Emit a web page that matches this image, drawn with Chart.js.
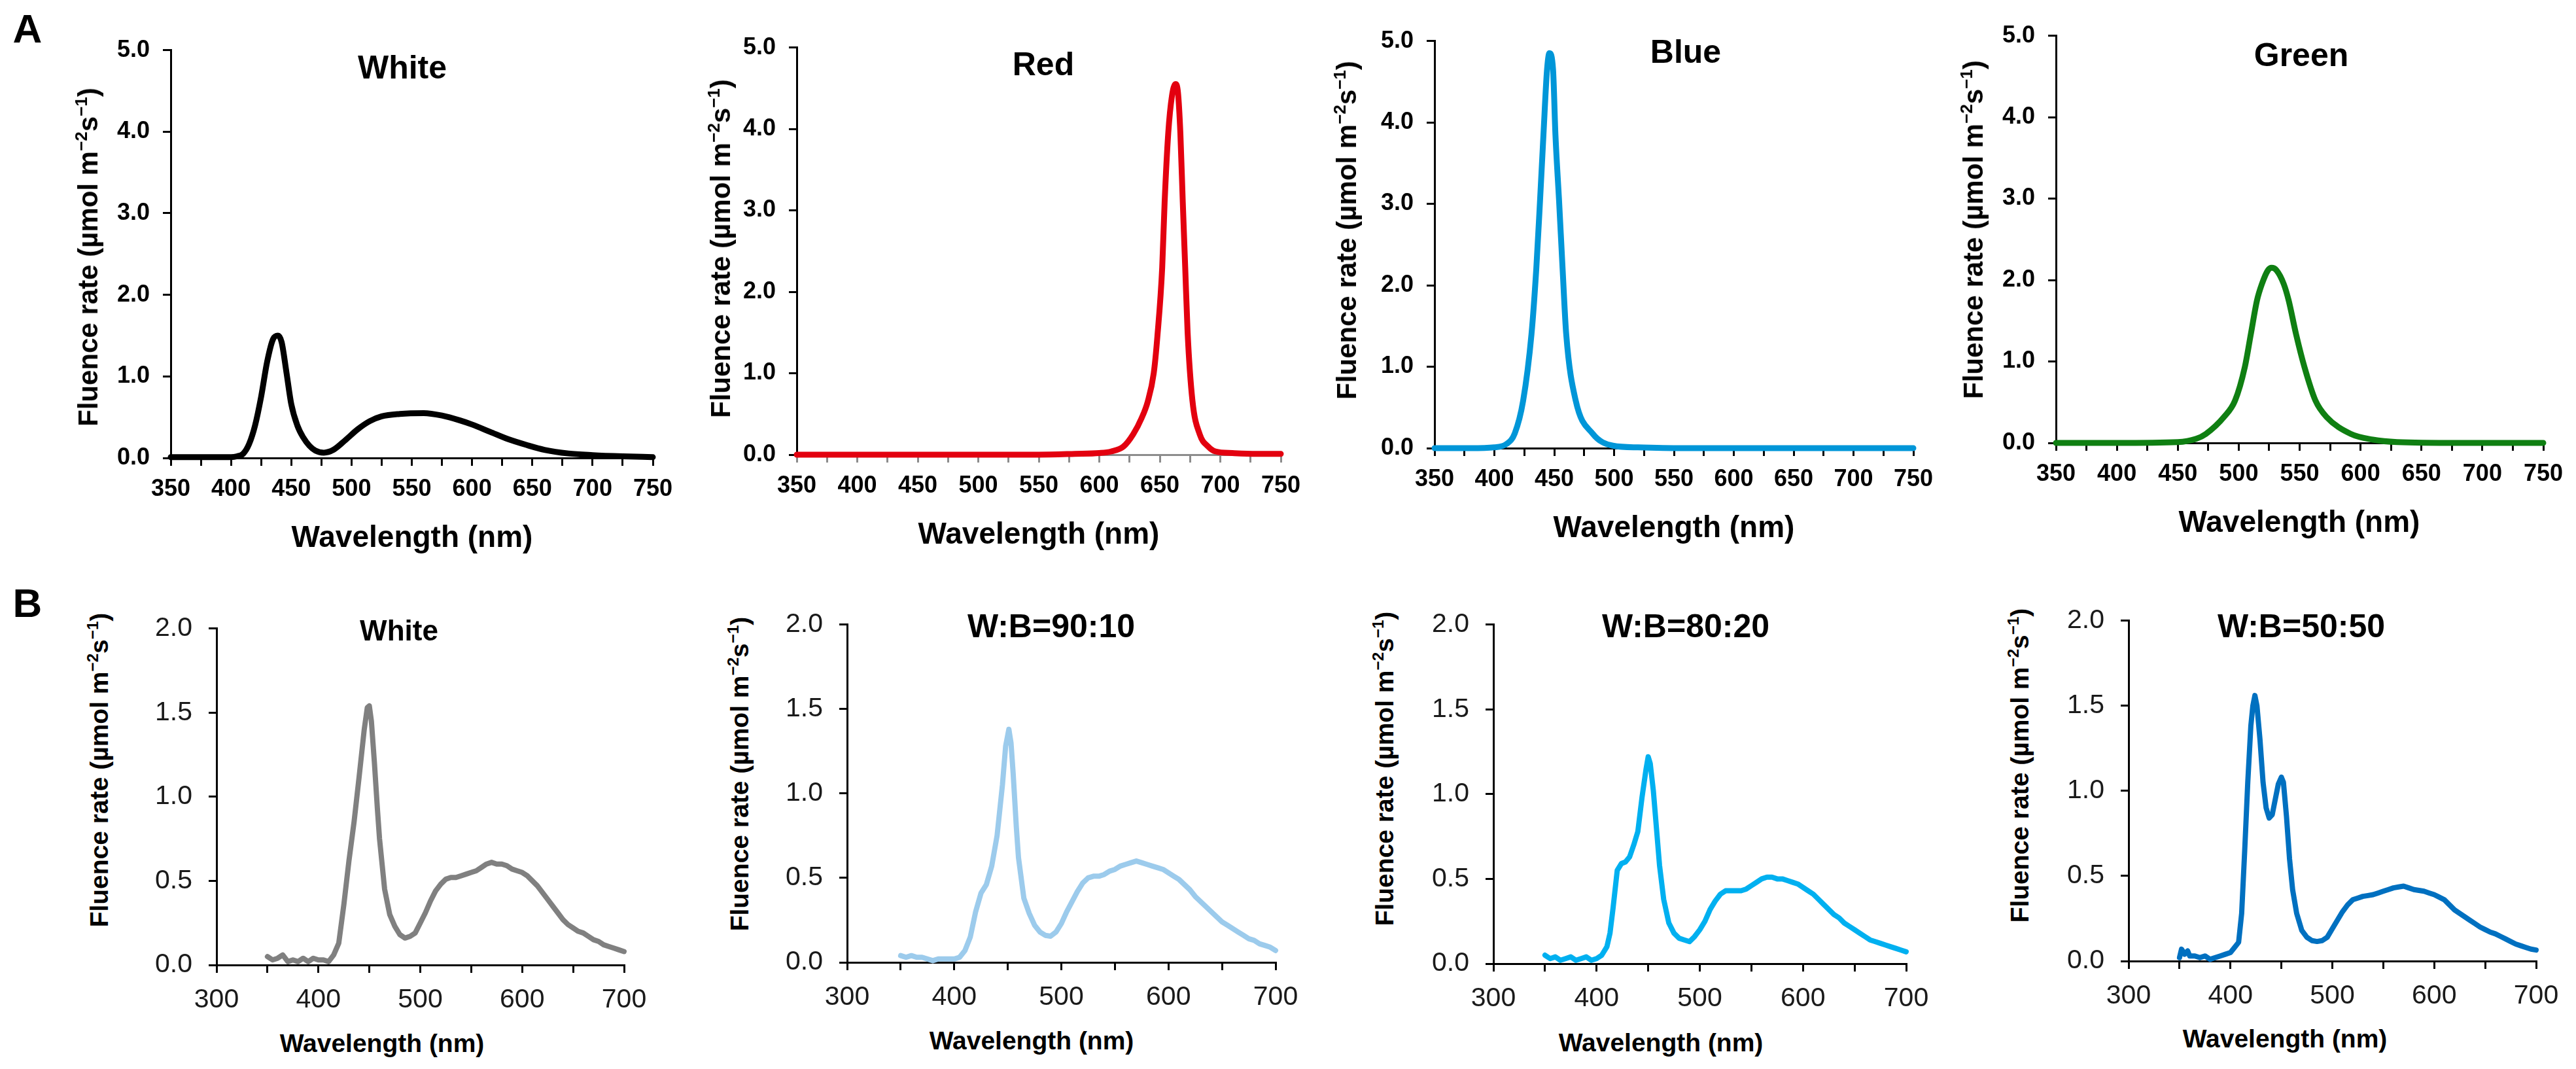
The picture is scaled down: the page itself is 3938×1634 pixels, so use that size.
<!DOCTYPE html>
<html lang="en">
<head>
  <meta charset="UTF-8" />
  <title>Fluence rate spectra</title>
  <script src="https://cdn.jsdelivr.net/npm/chart.js"></script>
  <style>
    body {
      margin: 0;
      width: 3938px;
      height: 1634px;
      position: relative;
      overflow: hidden;
      background: #fff;
      color: #000;
      font-family: "Liberation Sans", Arial, sans-serif;
    }
    canvas {
      position: absolute;
    }
    .lbl {
      position: absolute;
      white-space: nowrap;
      font-weight: bold;
      line-height: 1;
      transform: translate(-50%, -50%);
    }
    .ytitle {
      transform: translate(-50%, -50%) rotate(-90deg);
    }
    .lbl sup {
      font-size: 0.62em;
      vertical-align: 0.6em;
      line-height: 0;
    }
  </style>
</head>
<body>

<script>
  // ---- row A: LED spectra (wavelength nm / fluence rate) ----
  const wlWhiteA  = [350, 380, 400, 405, 410, 415, 420, 425, 430, 435, 439, 442, 446, 450, 455, 460, 465, 470, 477, 485, 495, 505, 515, 525, 540, 560, 575, 590, 600, 615, 630, 645, 660, 680, 700, 725, 750];
  const fluWhiteA = [0.01, 0.01, 0.01, 0.02, 0.05, 0.17, 0.40, 0.75, 1.18, 1.46, 1.50, 1.42, 1.05, 0.66, 0.40, 0.25, 0.15, 0.09, 0.065, 0.10, 0.22, 0.35, 0.45, 0.51, 0.54, 0.55, 0.52, 0.46, 0.41, 0.32, 0.23, 0.16, 0.10, 0.055, 0.035, 0.02, 0.01];

  const wlRed  = [350, 400, 450, 500, 550, 580, 600, 610, 620, 628, 635, 640, 645, 648, 652, 654, 657, 660, 663, 665, 667, 669, 671, 673, 677, 683, 690, 696, 710, 730, 750];
  const fluRed = [0, 0, 0, 0, 0, 0.01, 0.02, 0.04, 0.10, 0.25, 0.45, 0.65, 1.00, 1.45, 2.30, 3.10, 3.95, 4.40, 4.55, 4.45, 3.95, 3.10, 2.30, 1.50, 0.66, 0.25, 0.10, 0.04, 0.02, 0.01, 0.01];

  const wlBlue  = [350, 380, 400, 410, 417, 424, 431, 435, 438, 441, 444, 446, 449, 451, 454, 457, 460, 468, 482, 499, 520, 560, 650, 750];
  const fluBlue = [0, 0, 0.01, 0.05, 0.18, 0.58, 1.40, 2.20, 3.00, 3.85, 4.65, 4.85, 4.65, 3.85, 3.05, 2.20, 1.40, 0.58, 0.18, 0.03, 0.01, 0, 0, 0];

  const wlGreen  = [350, 400, 450, 465, 473, 488, 497, 505, 510, 515, 519, 524, 527, 531, 537, 541, 547, 554, 563, 572, 592, 610, 630, 680, 750];
  const fluGreen = [0, 0, 0.01, 0.05, 0.11, 0.32, 0.52, 0.93, 1.34, 1.75, 1.95, 2.12, 2.15, 2.12, 1.95, 1.75, 1.34, 0.93, 0.52, 0.32, 0.11, 0.04, 0.01, 0, 0];

  // ---- row B: measured spectra of the mixed light treatments ----
  const wlWhiteB  = [350, 355, 360, 365, 370, 375, 380, 385, 390, 395, 400, 405, 410, 415, 420, 425, 430, 435, 440, 445, 448, 450, 452, 455, 458, 460, 465, 470, 475, 480, 485, 490, 495, 500, 505, 510, 515, 520, 525, 530, 535, 540, 545, 550, 555, 560, 565, 570, 575, 580, 585, 590, 595, 600, 605, 610, 615, 620, 625, 630, 635, 640, 645, 650, 655, 660, 665, 670, 675, 680, 685, 690, 695, 700];
  const fluWhiteB = [0.05, 0.03, 0.04, 0.06, 0.02, 0.03, 0.02, 0.04, 0.02, 0.04, 0.03, 0.03, 0.02, 0.06, 0.13, 0.36, 0.62, 0.85, 1.12, 1.40, 1.53, 1.54, 1.45, 1.20, 0.92, 0.75, 0.45, 0.30, 0.23, 0.18, 0.16, 0.17, 0.19, 0.25, 0.31, 0.38, 0.44, 0.48, 0.51, 0.52, 0.52, 0.53, 0.54, 0.55, 0.56, 0.58, 0.60, 0.61, 0.60, 0.60, 0.59, 0.57, 0.56, 0.55, 0.53, 0.50, 0.47, 0.43, 0.39, 0.35, 0.31, 0.27, 0.24, 0.22, 0.20, 0.19, 0.17, 0.15, 0.14, 0.12, 0.11, 0.10, 0.09, 0.08];

  const wlWB9010  = [350, 355, 360, 365, 370, 375, 380, 385, 390, 395, 400, 405, 410, 415, 420, 425, 430, 435, 440, 445, 448, 451, 453, 455, 458, 460, 465, 470, 475, 480, 485, 490, 495, 500, 505, 510, 515, 520, 525, 530, 535, 540, 545, 550, 555, 560, 565, 570, 575, 580, 585, 590, 595, 600, 605, 610, 615, 620, 625, 630, 635, 640, 645, 650, 655, 660, 665, 670, 675, 680, 685, 690, 695, 700];
  const fluWB9010 = [0.04, 0.03, 0.04, 0.03, 0.03, 0.02, 0.01, 0.02, 0.02, 0.02, 0.02, 0.03, 0.07, 0.15, 0.30, 0.41, 0.46, 0.57, 0.75, 1.05, 1.28, 1.38, 1.30, 1.12, 0.80, 0.62, 0.38, 0.29, 0.22, 0.18, 0.16, 0.155, 0.18, 0.23, 0.30, 0.36, 0.42, 0.47, 0.50, 0.51, 0.51, 0.52, 0.54, 0.55, 0.57, 0.58, 0.59, 0.60, 0.59, 0.58, 0.57, 0.56, 0.55, 0.53, 0.51, 0.49, 0.46, 0.43, 0.39, 0.36, 0.33, 0.30, 0.27, 0.24, 0.22, 0.20, 0.18, 0.16, 0.14, 0.13, 0.11, 0.10, 0.09, 0.07];

  const wlWB8020  = [350, 355, 360, 365, 370, 375, 380, 385, 390, 395, 400, 405, 410, 413, 416, 420, 424, 428, 432, 436, 440, 444, 448, 450, 452, 455, 458, 461, 465, 470, 475, 480, 485, 490, 495, 500, 505, 510, 515, 520, 525, 530, 535, 540, 545, 550, 555, 560, 565, 570, 575, 580, 585, 590, 595, 600, 605, 610, 615, 620, 625, 630, 635, 640, 645, 650, 655, 660, 665, 670, 675, 680, 685, 690, 695, 700];
  const fluWB8020 = [0.05, 0.03, 0.04, 0.02, 0.03, 0.04, 0.02, 0.03, 0.04, 0.02, 0.03, 0.05, 0.10, 0.18, 0.33, 0.55, 0.59, 0.60, 0.63, 0.70, 0.78, 0.98, 1.15, 1.22, 1.18, 1.02, 0.80, 0.58, 0.38, 0.24, 0.18, 0.15, 0.14, 0.13, 0.16, 0.20, 0.25, 0.32, 0.37, 0.41, 0.43, 0.43, 0.43, 0.43, 0.44, 0.46, 0.48, 0.50, 0.51, 0.51, 0.50, 0.50, 0.49, 0.48, 0.47, 0.45, 0.43, 0.41, 0.38, 0.35, 0.32, 0.29, 0.27, 0.24, 0.22, 0.20, 0.18, 0.16, 0.14, 0.13, 0.12, 0.11, 0.10, 0.09, 0.08, 0.07];

  const wlWB5050  = [350, 352, 355, 358, 360, 365, 370, 375, 380, 385, 390, 395, 400, 404, 408, 411, 414, 417, 420, 422, 424, 426, 429, 432, 435, 438, 441, 444, 447, 450, 452, 455, 458, 461, 465, 470, 475, 480, 485, 490, 495, 500, 505, 510, 515, 520, 525, 530, 535, 540, 545, 550, 555, 560, 565, 570, 575, 580, 585, 590, 595, 600, 605, 610, 615, 620, 625, 630, 635, 640, 645, 650, 655, 660, 665, 670, 675, 680, 685, 690, 695, 700];
  const fluWB5050 = [0.02, 0.07, 0.04, 0.06, 0.03, 0.03, 0.02, 0.03, 0.01, 0.02, 0.03, 0.04, 0.05, 0.08, 0.11, 0.28, 0.65, 1.05, 1.38, 1.50, 1.56, 1.50, 1.30, 1.05, 0.90, 0.84, 0.86, 0.95, 1.04, 1.08, 1.05, 0.85, 0.60, 0.42, 0.28, 0.18, 0.14, 0.12, 0.115, 0.12, 0.14, 0.19, 0.24, 0.29, 0.33, 0.36, 0.37, 0.38, 0.385, 0.39, 0.40, 0.41, 0.42, 0.43, 0.435, 0.44, 0.43, 0.42, 0.415, 0.41, 0.40, 0.39, 0.375, 0.36, 0.33, 0.30, 0.28, 0.26, 0.24, 0.22, 0.20, 0.185, 0.17, 0.16, 0.145, 0.13, 0.115, 0.10, 0.09, 0.08, 0.07, 0.065];

  // tick labels
  const xLabelsA = [350, 400, 450, 500, 550, 600, 650, 700, 750];
  const yLabelsA = [0, 1, 2, 3, 4, 5];
  const xLabelsB = [300, 400, 500, 600, 700];
  const yLabelsB = [0, 0.5, 1, 1.5, 2];

  const yTitleHtml = 'Fluence rate (µmol m<sup>−2</sup>s<sup>−1</sup>)';
  const FONT = '"Liberation Sans", Arial, sans-serif';

  // row settings (axes + type sizes)
  const rowA = {
    xMin: 350, xMax: 750, xStep: 25, xLabels: xLabelsA,
    yMax: 5, yStep: 1, yLabels: yLabelsA,
    tickFont: { size: 36, weight: 'bold' }, tickColor: '#000',
    xPad: 14, yPad: 20, lineWidth: 9, smooth: true,
    titleSize: 50, yTitleSize: 42, xTitleSize: 46
  };
  const rowB = {
    xMin: 300, xMax: 700, xStep: 50, xLabels: xLabelsB,
    yMax: 2, yStep: 0.5, yLabels: yLabelsB,
    tickFont: { size: 41, weight: 'normal' }, tickColor: '#1a1a1a',
    xPad: 17, yPad: 25, lineWidth: 8, smooth: false,
    yTitleSize: 39, xTitleSize: 39
  };

  const panels = [
    { row: rowA, wl: wlWhiteA, flu: fluWhiteA, color: '#000000', title: 'White',
      axisX: 261, top: 75, right: 998, bottom: 700, tx: 615, ty: 103, yt: [135, 393], xt: [630, 820] },
    { row: rowA, wl: wlRed, flu: fluRed, color: '#e3000f', xAxisColor: '#8c8c8c', title: 'Red',
      axisX: 1218, top: 71, right: 1958, bottom: 695, tx: 1595, ty: 98, yt: [1102, 380], xt: [1588, 815] },
    { row: rowA, wl: wlBlue, flu: fluBlue, color: '#0096d8', title: 'Blue',
      axisX: 2193, top: 61, right: 2925, bottom: 685, tx: 2577, ty: 79, yt: [2059, 352], xt: [2559, 805] },
    { row: rowA, wl: wlGreen, flu: fluGreen, color: '#0f7f12', title: 'Green',
      axisX: 3143, top: 53, right: 3888, bottom: 677, tx: 3518, ty: 84, yt: [3017, 351], xt: [3515, 797] },

    { row: rowB, wl: wlWhiteB, flu: fluWhiteB, color: '#808080', title: 'White', titleSize: 44,
      axisX: 331, top: 951, right: 954, bottom: 1475, tx: 610, ty: 964, yt: [151, 1177], xt: [584, 1594] },
    { row: rowB, wl: wlWB9010, flu: fluWB9010, color: '#9ccbec', title: 'W:B=90:10', titleSize: 50,
      axisX: 1295, top: 945, right: 1950, bottom: 1471, tx: 1607, ty: 957, yt: [1130, 1183], xt: [1577, 1590] },
    { row: rowB, wl: wlWB8020, flu: fluWB8020, color: '#00b0f0', title: 'W:B=80:20', titleSize: 50,
      axisX: 2283, top: 945, right: 2914, bottom: 1473, tx: 2577, ty: 957, yt: [2116, 1175], xt: [2539, 1593] },
    { row: rowB, wl: wlWB5050, flu: fluWB5050, color: '#0070c0', title: 'W:B=50:50', titleSize: 50,
      axisX: 3254, top: 939, right: 3877, bottom: 1469, tx: 3518, ty: 957, yt: [3087, 1170], xt: [3493, 1587] }
  ];

  function addLabel(html, x, y, size, extraClass) {
    const d = document.createElement('div');
    d.className = 'lbl' + (extraClass ? ' ' + extraClass : '');
    d.style.left = x + 'px';
    d.style.top = y + 'px';
    d.style.fontSize = size + 'px';
    d.innerHTML = html;
    document.body.appendChild(d);
  }

  addLabel('A', 42, 44, 62);
  addLabel('B', 42, 922, 62);

  const YW = 135, XH = 95, PAD_TOP = 40, PAD_RIGHT = 60;

  panels.forEach(p => {
    const r = p.row;
    const left = p.axisX - YW;
    const top = p.top - PAD_TOP;
    const w = p.right + PAD_RIGHT - left;
    const h = p.bottom + XH - top;

    const canvas = document.createElement('canvas');
    canvas.width = w;
    canvas.height = h;
    canvas.style.left = left + 'px';
    canvas.style.top = top + 'px';
    canvas.style.width = w + 'px';
    canvas.style.height = h + 'px';
    document.body.appendChild(canvas);

    const axisColor = '#000';
    new Chart(canvas.getContext('2d'), {
      type: 'line',
      data: {
        datasets: [{
          data: p.wl.map((x, i) => ({ x: x, y: p.flu[i] })),
          borderColor: p.color,
          borderWidth: r.lineWidth,
          pointRadius: 0,
          fill: false,
          clip: false,
          borderJoinStyle: 'round',
          borderCapStyle: 'round',
          cubicInterpolationMode: r.smooth ? 'monotone' : 'default',
          tension: 0
        }]
      },
      options: {
        responsive: false,
        animation: false,
        events: [],
        devicePixelRatio: 1,
        layout: { padding: { left: 0, top: PAD_TOP, right: PAD_RIGHT, bottom: 0 } },
        plugins: { legend: { display: false }, tooltip: { enabled: false } },
        scales: {
          x: {
            type: 'linear',
            min: r.xMin,
            max: r.xMax,
            afterFit: s => { s.height = XH; },
            border: { display: true, color: p.xAxisColor || axisColor, width: 3 },
            grid: {
              display: true, drawOnChartArea: false, drawTicks: true,
              tickLength: 12, tickWidth: 3, lineWidth: 3,
              color: p.xAxisColor || axisColor, tickColor: p.xAxisColor || axisColor
            },
            ticks: {
              stepSize: r.xStep,
              autoSkip: false,
              maxRotation: 0,
              padding: r.xPad,
              color: r.tickColor,
              font: { family: FONT, size: r.tickFont.size, weight: r.tickFont.weight },
              callback: v => r.xLabels.includes(v) ? String(v) : ''
            }
          },
          y: {
            min: 0,
            max: r.yMax,
            afterFit: s => { s.width = YW; },
            border: { display: true, color: axisColor, width: 3 },
            grid: {
              display: true, drawOnChartArea: false, drawTicks: true,
              tickLength: 12, tickWidth: 3, lineWidth: 3,
              color: axisColor, tickColor: axisColor
            },
            ticks: {
              stepSize: r.yStep,
              autoSkip: false,
              padding: r.yPad,
              color: r.tickColor,
              font: { family: FONT, size: r.tickFont.size, weight: r.tickFont.weight },
              callback: v => r.yLabels.includes(v) ? v.toFixed(1) : ''
            }
          }
        }
      }
    });

    addLabel(p.title, p.tx, p.ty, p.titleSize || r.titleSize);
    addLabel(yTitleHtml, p.yt[0], p.yt[1], r.yTitleSize, 'ytitle');
    addLabel('Wavelength (nm)', p.xt[0], p.xt[1], r.xTitleSize);
  });
</script>

</body>
</html>
